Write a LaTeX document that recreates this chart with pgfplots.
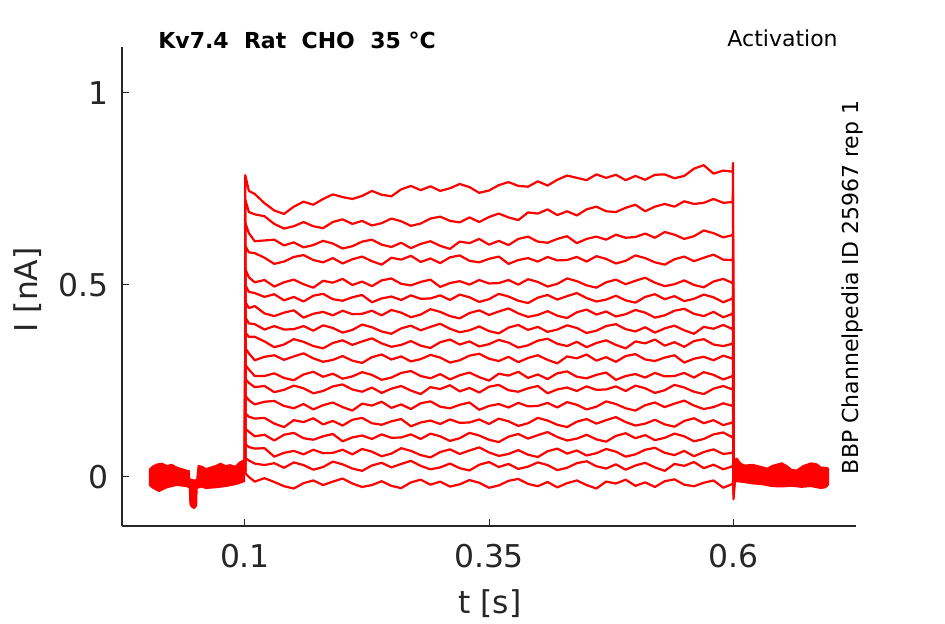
\documentclass[border=0pt]{standalone}
\usepackage{fontspec}
\setmainfont{DejaVu Sans}
\setsansfont{DejaVu Sans}
\usepackage{pgfplots}
\usepackage{pgfplotstable}
\pgfplotsset{compat=1.18}
\definecolor{axgray}{HTML}{262626}

\pgfplotstableread{
t a1 a2 a3 a4 a5 a6 a7 a8 a9 a10 a11 a12 a13 a14 a15 a16 a17 a18
0.1 0.012 0.015 0.010 0.018 0.008 0.014 0.011 0.016 0.009 0.013 0.017 0.010 0.012 0.015 0.008 0.014 0.011 0.006
0.1003 0.786 0.722 0.662 0.602 0.542 0.500 0.456 0.416 0.376 0.336 0.292 0.256 0.212 0.166 0.126 0.086 0.050 0.010
0.104 0.745 0.690 0.635 0.585 0.520 0.482 0.440 0.400 0.365 0.322 0.280 0.245 0.200 0.157 0.118 0.078 0.043 0.000
0.11 0.737 0.684 0.614 0.583 0.507 0.479 0.445 0.398 0.365 0.304 0.263 0.234 0.189 0.152 0.106 0.074 0.035 -0.012
0.12 0.713 0.679 0.616 0.571 0.513 0.469 0.426 0.384 0.353 0.313 0.263 0.237 0.196 0.154 0.110 0.075 0.031 -0.003
0.13 0.694 0.659 0.618 0.555 0.496 0.476 0.419 0.393 0.338 0.317 0.270 0.221 0.198 0.139 0.095 0.053 0.036 -0.013
0.14 0.685 0.647 0.603 0.561 0.507 0.460 0.428 0.384 0.345 0.305 0.258 0.227 0.185 0.130 0.110 0.063 0.024 -0.024
0.15 0.704 0.653 0.611 0.573 0.514 0.469 0.434 0.385 0.359 0.314 0.252 0.238 0.179 0.148 0.115 0.068 0.038 -0.030
0.16 0.717 0.664 0.598 0.578 0.502 0.457 0.415 0.393 0.352 0.322 0.267 0.231 0.190 0.143 0.101 0.059 0.031 -0.016
0.17 0.709 0.653 0.604 0.565 0.493 0.472 0.425 0.381 0.341 0.309 0.274 0.218 0.176 0.153 0.097 0.071 0.019 -0.009
0.18 0.724 0.648 0.615 0.559 0.511 0.477 0.430 0.395 0.335 0.300 0.261 0.224 0.187 0.137 0.106 0.062 0.026 -0.021
0.19 0.736 0.664 0.608 0.570 0.506 0.463 0.421 0.388 0.349 0.305 0.269 0.236 0.194 0.146 0.112 0.063 0.040 -0.012
0.20 0.729 0.671 0.595 0.556 0.516 0.459 0.433 0.376 0.356 0.315 0.256 0.241 0.182 0.134 0.093 0.071 0.033 -0.004
0.21 0.724 0.659 0.601 0.567 0.500 0.468 0.424 0.383 0.344 0.303 0.262 0.228 0.173 0.149 0.103 0.059 0.022 -0.017
0.22 0.732 0.667 0.613 0.574 0.509 0.474 0.425 0.397 0.353 0.297 0.273 0.222 0.191 0.154 0.108 0.073 0.016 -0.026
0.23 0.745 0.655 0.618 0.562 0.497 0.455 0.433 0.390 0.361 0.312 0.266 0.233 0.186 0.140 0.099 0.066 0.030 -0.021
0.24 0.735 0.661 0.605 0.553 0.512 0.465 0.421 0.379 0.348 0.319 0.253 0.219 0.196 0.136 0.111 0.054 0.037 -0.011
0.25 0.731 0.673 0.599 0.571 0.517 0.470 0.435 0.373 0.339 0.306 0.259 0.230 0.180 0.145 0.102 0.061 0.025 -0.023
0.26 0.749 0.666 0.610 0.566 0.503 0.461 0.428 0.387 0.344 0.314 0.271 0.237 0.189 0.151 0.103 0.075 0.034 -0.029
0.27 0.758 0.654 0.596 0.576 0.499 0.473 0.416 0.394 0.354 0.301 0.276 0.225 0.177 0.132 0.111 0.068 0.042 -0.014
0.28 0.747 0.660 0.607 0.560 0.508 0.464 0.423 0.382 0.342 0.307 0.263 0.216 0.192 0.142 0.099 0.057 0.029 -0.007
0.29 0.757 0.673 0.614 0.569 0.514 0.465 0.437 0.391 0.336 0.318 0.257 0.234 0.197 0.147 0.113 0.051 0.020 -0.020
0.30 0.745 0.678 0.602 0.557 0.495 0.473 0.430 0.399 0.351 0.311 0.268 0.229 0.183 0.138 0.106 0.065 0.025 -0.012
0.31 0.752 0.667 0.594 0.572 0.505 0.461 0.419 0.386 0.358 0.298 0.254 0.239 0.179 0.150 0.094 0.072 0.035 -0.025
0.32 0.763 0.663 0.613 0.577 0.510 0.475 0.413 0.377 0.345 0.304 0.265 0.223 0.188 0.141 0.101 0.060 0.023 -0.019
0.33 0.755 0.676 0.609 0.563 0.501 0.468 0.427 0.382 0.353 0.316 0.272 0.232 0.194 0.142 0.115 0.069 0.017 -0.008
0.34 0.740 0.664 0.620 0.559 0.513 0.456 0.434 0.392 0.340 0.321 0.260 0.220 0.175 0.150 0.108 0.077 0.032 -0.015
0.35 0.746 0.677 0.605 0.568 0.504 0.463 0.422 0.380 0.346 0.308 0.251 0.235 0.185 0.138 0.097 0.064 0.039 -0.028
0.36 0.760 0.686 0.615 0.574 0.505 0.477 0.431 0.374 0.357 0.302 0.269 0.240 0.190 0.152 0.091 0.055 0.026 -0.022
0.37 0.768 0.676 0.604 0.555 0.513 0.470 0.439 0.389 0.350 0.313 0.264 0.226 0.181 0.145 0.105 0.060 0.034 -0.010
0.38 0.758 0.669 0.620 0.565 0.501 0.459 0.426 0.396 0.337 0.299 0.274 0.222 0.193 0.133 0.112 0.070 0.021 -0.005
0.39 0.756 0.689 0.626 0.570 0.515 0.453 0.417 0.383 0.343 0.310 0.258 0.231 0.184 0.140 0.100 0.058 0.027 -0.018
0.40 0.770 0.686 0.613 0.561 0.508 0.467 0.422 0.391 0.355 0.317 0.267 0.237 0.185 0.154 0.109 0.052 0.038 -0.024
0.41 0.759 0.697 0.610 0.573 0.496 0.474 0.432 0.378 0.360 0.305 0.255 0.218 0.193 0.147 0.117 0.067 0.031 -0.013
0.42 0.774 0.682 0.620 0.564 0.503 0.462 0.420 0.384 0.347 0.296 0.270 0.228 0.181 0.136 0.104 0.074 0.018 -0.027
0.43 0.785 0.692 0.627 0.565 0.517 0.471 0.414 0.395 0.341 0.314 0.275 0.233 0.195 0.130 0.095 0.061 0.024 -0.016
0.44 0.779 0.681 0.609 0.573 0.510 0.479 0.429 0.388 0.352 0.309 0.261 0.224 0.188 0.144 0.100 0.069 0.036 -0.009
0.45 0.773 0.697 0.620 0.561 0.499 0.466 0.436 0.375 0.338 0.319 0.257 0.236 0.176 0.151 0.110 0.056 0.041 -0.021
0.46 0.788 0.704 0.626 0.575 0.493 0.457 0.423 0.381 0.349 0.303 0.266 0.227 0.183 0.139 0.098 0.062 0.028 -0.030
0.47 0.779 0.692 0.618 0.568 0.507 0.462 0.431 0.393 0.356 0.312 0.272 0.228 0.197 0.148 0.092 0.073 0.022 -0.012
0.48 0.787 0.690 0.631 0.556 0.514 0.472 0.418 0.398 0.344 0.300 0.253 0.236 0.190 0.156 0.107 0.066 0.033 -0.017
0.49 0.773 0.701 0.623 0.563 0.502 0.460 0.424 0.385 0.335 0.315 0.263 0.224 0.179 0.143 0.114 0.053 0.019 -0.007
0.50 0.784 0.709 0.625 0.577 0.511 0.454 0.435 0.379 0.353 0.320 0.268 0.238 0.173 0.134 0.101 0.059 0.030 -0.023
0.51 0.774 0.692 0.634 0.570 0.519 0.469 0.428 0.390 0.348 0.306 0.259 0.231 0.187 0.139 0.109 0.071 0.037 -0.014
0.52 0.787 0.704 0.623 0.559 0.506 0.476 0.415 0.376 0.358 0.302 0.271 0.219 0.194 0.149 0.096 0.076 0.025 -0.026
0.53 0.788 0.711 0.638 0.553 0.497 0.463 0.421 0.387 0.342 0.311 0.262 0.226 0.182 0.137 0.102 0.063 0.016 -0.011
0.54 0.778 0.704 0.631 0.567 0.502 0.471 0.433 0.394 0.351 0.317 0.263 0.240 0.191 0.131 0.113 0.057 0.034 -0.006
0.55 0.784 0.718 0.620 0.574 0.512 0.458 0.438 0.382 0.339 0.298 0.271 0.233 0.199 0.146 0.106 0.068 0.029 -0.020
0.56 0.803 0.711 0.627 0.562 0.500 0.464 0.425 0.373 0.354 0.308 0.259 0.222 0.186 0.153 0.093 0.054 0.039 -0.024
0.57 0.812 0.714 0.642 0.571 0.494 0.475 0.419 0.391 0.359 0.313 0.273 0.216 0.177 0.140 0.099 0.065 0.023 -0.015
0.58 0.790 0.724 0.635 0.579 0.509 0.468 0.430 0.386 0.345 0.304 0.266 0.230 0.182 0.148 0.111 0.072 0.032 -0.009
0.59 0.798 0.714 0.624 0.566 0.516 0.455 0.416 0.396 0.341 0.316 0.254 0.237 0.192 0.135 0.116 0.060 0.020 -0.028
0.5995 0.795 0.716 0.630 0.565 0.505 0.465 0.425 0.385 0.347 0.308 0.263 0.228 0.185 0.142 0.103 0.063 0.028 -0.018
0.6 0.818 0.745 0.640 0.573 0.513 0.473 0.433 0.393 0.355 0.316 0.271 0.236 0.193 0.150 0.111 0.071 0.036 -0.010
0.6005 -0.058 -0.045 -0.030 -0.020 -0.015 -0.015 -0.015 -0.015 -0.015 -0.015 -0.015 -0.015 -0.015 -0.015 -0.015 -0.015 -0.015 -0.015
0.603 0.030 0.025 0.020 0.030 0.025 0.020 0.030 0.025 0.020 0.030 0.025 0.020 0.030 0.025 0.020 0.030 0.025 0.010
}\traces

\begin{document}
\begin{tikzpicture}
\path[use as bounding box] (0,0) rectangle (472.5pt,312pt);
\begin{axis}[
  at={(61pt,49pt)}, anchor=south west,
  width=367pt, height=239.5pt, scale only axis,
  xmin=-0.026, xmax=0.726, ymin=-0.1276, ymax=1.1198,
  axis x line*=bottom, axis y line*=left,
  axis line style={-, axgray, line width=0.6pt},
  xtick={0.1,0.35,0.6}, xticklabels={0.1,0.35,0.6},
  ytick={0,0.5,1}, yticklabels={0,0.5,1},
  tick align=inside, major tick length=3.5pt,
  every tick/.style={axgray, line width=0.5pt},
  tick label style={font=\fontsize{15.7}{18}\selectfont, text=axgray},
  xticklabel style={yshift=-5.8pt},
  yticklabel style={xshift=-3.3pt},
  label style={font=\fontsize{15.7}{18}\selectfont, text=axgray},
  xlabel={t [s]}, ylabel={I [nA]},
  xlabel style={at={(axis description cs:0.501,-0.163)}, anchor=center},
  ylabel style={at={(axis description cs:-0.128,0.493)}, anchor=center},
  clip=false,
  tr/.style={red, line width=1.1pt, line join=round},
]
\addplot[fill=red, draw=red, line width=0.5pt] coordinates {
 (0.002,0.020) (0.005,0.028) (0.01,0.034) (0.015,0.036) (0.02,0.030) (0.025,0.033)
 (0.03,0.026) (0.035,0.022) (0.04,0.018) (0.043,0.016) (0.0435,-0.005) (0.048,-0.008)
 (0.0505,-0.006) (0.052,0.030) (0.056,0.028) (0.06,0.022) (0.065,0.026) (0.07,0.030)
 (0.075,0.036) (0.08,0.030) (0.085,0.032) (0.09,0.028) (0.095,0.040) (0.0995,0.045)
 (0.0995,-0.012) (0.095,-0.016) (0.09,-0.020) (0.08,-0.025) (0.07,-0.028) (0.06,-0.030)
 (0.055,-0.026) (0.051,-0.030) (0.0505,-0.075) (0.048,-0.082) (0.045,-0.078) (0.0435,-0.070)
 (0.043,-0.028) (0.04,-0.025) (0.03,-0.022) (0.02,-0.028) (0.012,-0.038) (0.006,-0.030) (0.002,-0.022)
} -- cycle;
\addplot[fill=red, draw=red, line width=0.5pt] coordinates {
 (0.6,0.045) (0.604,0.049) (0.608,0.036) (0.612,0.031) (0.62,0.033) (0.628,0.028)
 (0.635,0.023) (0.64,0.030) (0.65,0.037) (0.655,0.030) (0.66,0.020) (0.665,0.018)
 (0.672,0.030) (0.68,0.037) (0.686,0.034) (0.69,0.026) (0.696,0.025) (0.698,0.022)
 (0.698,-0.020) (0.695,-0.028) (0.69,-0.030) (0.68,-0.025) (0.67,-0.027) (0.66,-0.024)
 (0.65,-0.026) (0.64,-0.025) (0.63,-0.020) (0.62,-0.018) (0.61,-0.014) (0.603,-0.012) (0.6,-0.010)
} -- cycle;
\pgfplotsinvokeforeach{1,...,18}{
  \addplot[tr] table[x=t, y=a#1] {\traces};
}
\node[anchor=west, inner sep=0pt, font=\fontsize{11}{13}\selectfont\bfseries] at (axis description cs:0.049,1.0146) {Kv7.4\ \ Rat\ \ CHO\ \ 35\ °C};
\node[anchor=east, inner sep=0pt, font=\fontsize{11}{13}\selectfont] at (axis description cs:0.9755,1.0188) {Activation};
\node[anchor=center, rotate=90, inner sep=0pt, font=\fontsize{11}{13}\selectfont] at (axis description cs:0.9945,0.498) {BBP Channelpedia ID 25967 rep 1};
\end{axis}
\end{tikzpicture}
\end{document}
